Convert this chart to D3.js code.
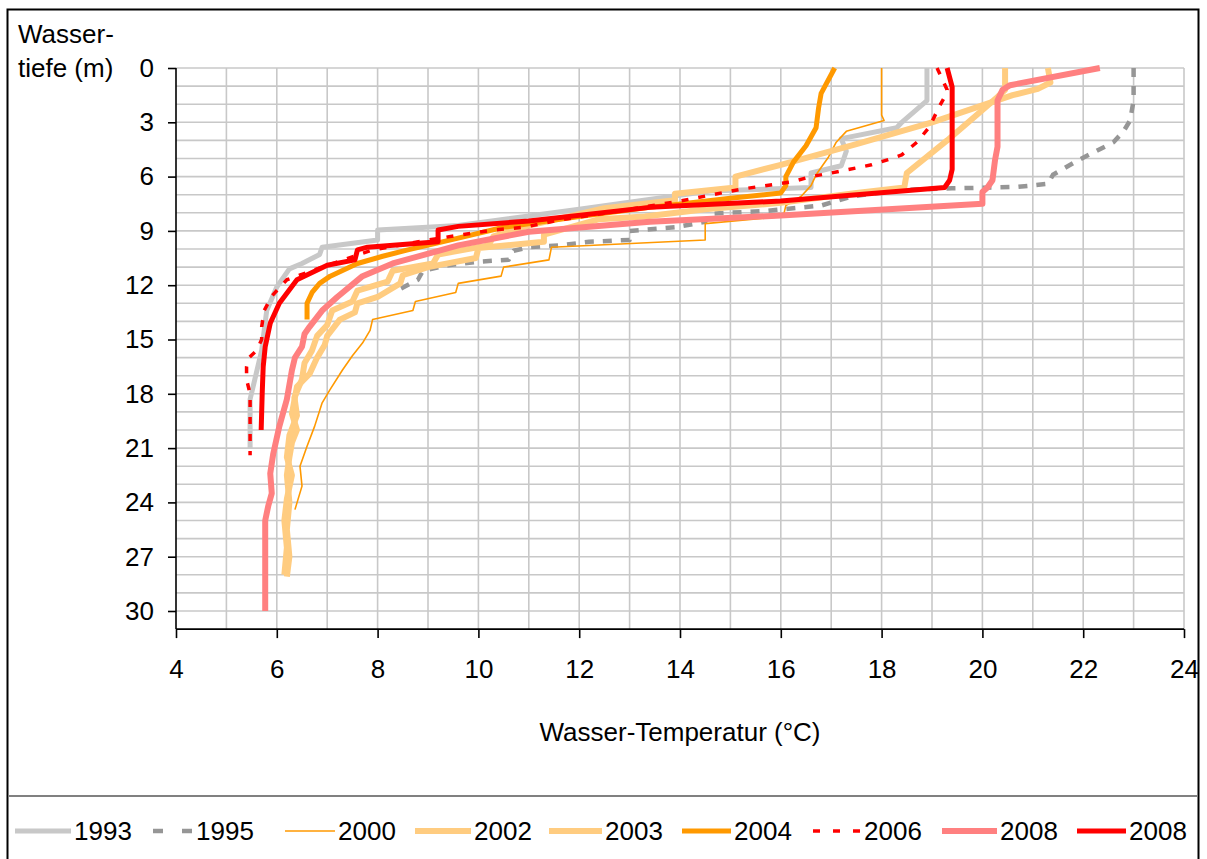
<!DOCTYPE html>
<html><head><meta charset="utf-8">
<script src="https://cdn.jsdelivr.net/npm/d3@7"></script>
<style>
html,body{margin:0;padding:0;background:#fff;}
svg text{font-family:"Liberation Sans",Arial,sans-serif;fill:#000;}
</style></head>
<body>
<svg id="chart" width="1207" height="859"></svg>
<script>
// ---- data: [temperature °C, depth m] ----
const s1993 = [[18.9,0],[18.9,1.8],[18.4,3.0],[18.3,3.3],[17.2,3.9],[17.3,4.6],[17.2,5.4],[16.6,5.8],[16.6,6.6],[14.6,6.8],[12.0,7.8],[9.6,8.7],[8.0,8.95],[8.0,9.5],[6.9,9.9],[6.85,10.3],[6.5,10.8],[6.25,11.1],[6.0,12.1],[5.8,13.4],[5.7,15.6],[5.53,17.6],[5.47,18.3],[5.47,21.0]];
const s1995 = [[23.0,0],[23.0,1.8],[22.93,2.9],[22.8,3.5],[22.6,4.1],[21.9,5.1],[21.4,5.9],[21.3,6.4],[20.7,6.57],[19.4,6.65],[18.7,6.7],[18.2,6.8],[17.4,7.1],[16.8,7.6],[15.7,7.9],[14.6,8.05],[14.5,8.5],[13.9,8.8],[13.0,9.0],[13.0,9.5],[12.2,9.6],[11.6,9.8],[11.0,9.9],[10.7,10.1],[10.6,10.6],[10.0,10.7],[9.4,10.9],[8.9,11.2],[8.8,11.7],[8.45,12.2],[8.45,12.4]];
const s2000 = [[18.0,0],[18.0,2.6],[18.05,2.9],[17.3,3.5],[17.1,4.1],[16.95,4.9],[16.7,5.9],[16.6,6.5],[16.4,7.1],[16.1,7.6],[16.05,8.2],[14.5,8.6],[14.5,9.5],[11.45,9.9],[11.4,10.6],[10.5,11.0],[10.45,11.5],[9.6,11.9],[9.55,12.4],[8.75,12.9],[8.7,13.4],[7.9,13.9],[7.85,14.5],[7.7,15.2],[7.5,15.9],[7.3,16.7],[7.05,17.8],[6.9,18.5],[6.75,19.8],[6.6,20.9],[6.46,22.0],[6.5,23.1],[6.36,24.4]];
const s2002 = [[20.45,0],[20.45,1.2],[20.3,1.6],[19.3,4.0],[18.5,5.8],[18.45,6.6],[17.5,6.9],[16.0,7.45],[14.5,7.8],[13.3,8.2],[12.4,8.35],[11.3,9.2],[11.3,9.6],[10.0,9.95],[9.95,10.5],[9.0,11.0],[8.5,11.45],[8.45,11.9],[8.0,12.65],[7.6,13.0],[7.55,13.5],[7.25,13.9],[7.0,14.8],[6.95,15.3],[6.8,16.0],[6.65,16.9],[6.4,17.6],[6.3,19.1],[6.4,20.0],[6.3,20.7],[6.25,21.5],[6.2,22.5],[6.25,24.0],[6.2,25.5],[6.25,27.0],[6.2,28.1]];
const s2003 = [[21.3,0],[21.35,0.8],[21.1,1.15],[20.6,1.5],[19.0,3.0],[17.5,4.2],[16.0,5.35],[15.1,6.0],[15.1,6.6],[13.9,6.95],[13.9,7.3],[12.5,7.75],[11.8,8.2],[11.0,8.7],[10.3,9.3],[10.2,9.8],[9.2,10.3],[9.1,10.8],[8.3,11.2],[8.2,11.8],[7.6,12.3],[7.5,12.9],[7.1,13.4],[7.0,14.2],[6.8,14.8],[6.7,15.6],[6.55,16.3],[6.5,17.2],[6.35,18.2],[6.4,19.2],[6.25,20.3],[6.2,21.5],[6.3,22.5],[6.2,23.8],[6.15,25.0],[6.2,26.5],[6.15,28.0]];
const s2004 = [[17.07,0],[16.8,1.4],[16.75,2.2],[16.7,3.3],[16.5,4.3],[16.25,5.2],[16.1,6.0],[16.1,6.5],[16.0,6.9],[15.0,7.2],[13.4,7.7],[12.0,8.2],[10.5,8.8],[9.6,9.4],[8.6,10.05],[8.1,10.4],[7.6,10.8],[7.06,11.5],[6.85,11.9],[6.7,12.4],[6.6,13.0],[6.6,13.9]];
const s2006 = [[19.1,0],[19.3,1.2],[19.25,1.6],[19.15,2.1],[18.95,3.25],[18.7,4.1],[18.4,4.8],[18.2,5.0],[17.8,5.35],[17.0,5.8],[16.6,6.0],[16.2,6.3],[15.2,6.7],[14.0,7.35],[12.8,7.9],[11.6,8.4],[10.9,8.8],[10.3,8.95],[9.0,9.5],[7.9,10.05],[6.9,11.0],[6.2,11.7],[5.9,12.6],[5.75,13.4],[5.7,14.3],[5.7,15.0],[5.6,15.6],[5.45,16.0],[5.4,16.5],[5.4,17.2],[5.47,18.0],[5.47,21.4]];
const s2008a = [[22.33,0],[20.55,0.95],[20.4,1.2],[20.3,1.8],[20.3,2.9],[20.3,4.35],[20.25,5.1],[20.2,6.2],[20.1,6.6],[20.0,6.85],[20.0,7.5],[16.0,8.15],[13.4,8.5],[11.0,9.05],[9.6,9.8],[8.3,10.8],[7.7,11.5],[7.2,12.65],[6.9,13.4],[6.65,14.3],[6.55,14.7],[6.5,15.4],[6.36,16.0],[6.3,16.7],[6.2,18.3],[6.05,19.8],[5.93,21.3],[5.87,22.4],[5.9,23.5],[5.83,24.2],[5.77,25.0],[5.77,30.0]];
const s2008b = [[19.3,0],[19.4,1.05],[19.4,5.6],[19.35,6.2],[19.25,6.6],[16.0,7.35],[13.4,7.7],[11.0,8.45],[9.6,8.75],[9.2,8.95],[9.2,9.6],[7.8,9.9],[7.6,10.05],[7.55,10.6],[7.0,10.9],[6.4,11.7],[6.05,13.0],[5.87,14.1],[5.77,15.4],[5.73,16.5],[5.71,18.0],[5.69,20.0]];

const seriesNames = ["1993","1995","2000","2002","2003","2004","2006","2008","2008"];
const seriesData = [s1993,s1995,s2000,s2002,s2003,s2004,s2006,s2008a,s2008b];
const xTicks = [4,6,8,10,12,14,16,18,20,22,24];
const yTicks = [0,3,6,9,12,15,18,21,24,27,30];

// ---- styles ----
const styles = [
  {color:"#C8C8C8", width:5,   dash:null},
  {color:"#969696", width:4.5, dash:"9,9"},
  {color:"#FF9900", width:1.6, dash:null},
  {color:"#FFCC80", width:6,   dash:null},
  {color:"#FFCC80", width:6,   dash:null},
  {color:"#FF9900", width:5,   dash:null},
  {color:"#FF0000", width:3.5, dash:"7,10"},
  {color:"#FF8080", width:6,   dash:null},
  {color:"#FF0000", width:5,   dash:null}
];

const svg = d3.select("#chart");
const FS = 26;

// outer frame
svg.append("rect").attr("x",7.5).attr("y",9.5).attr("width",1191).attr("height",870)
  .attr("fill","none").attr("stroke","#000").attr("stroke-width",2);
// legend separator
svg.append("line").attr("x1",8).attr("x2",1198).attr("y1",796).attr("y2",796)
  .attr("stroke","#808080").attr("stroke-width",2);

const x = d3.scaleLinear().domain([4,24]).range([176,1184]);
const y = d3.scaleLinear().domain([0,31]).range([68,629.1]);

// gridlines
const g = svg.append("g");
g.selectAll(".vg").data(d3.range(5,25,1)).join("line")
  .attr("x1",d=>x(d)).attr("x2",d=>x(d)).attr("y1",y(0)).attr("y2",y(31))
  .attr("stroke","#C8C8C8").attr("stroke-width",1.6);
g.selectAll(".hg").data(d3.range(0,31,1)).join("line")
  .attr("x1",x(4)).attr("x2",x(24)).attr("y1",d=>y(d)).attr("y2",d=>y(d))
  .attr("stroke","#C8C8C8").attr("stroke-width",1.6);

// axes
const xAxis = d3.axisBottom(x).tickValues(xTicks).tickSize(9).tickPadding(21).tickFormat(d3.format("d"));
const yAxis = d3.axisLeft(y).tickValues(yTicks).tickSize(8).tickPadding(14).tickFormat(d3.format("d"));
const gx = svg.append("g").attr("transform",`translate(0,${y(31)})`).call(xAxis);
const gy = svg.append("g").attr("transform",`translate(${x(4)},0)`).call(yAxis);
[gx,gy].forEach(a=>{
  a.select(".domain").attr("stroke","#000").attr("stroke-width",1.6);
  a.selectAll(".tick line").attr("stroke","#000").attr("stroke-width",1.6);
  a.selectAll("text").attr("font-size",FS).attr("font-family","Liberation Sans, Arial, sans-serif").attr("fill","#000");
});
gy.select(".domain").attr("d",`M-0,${y(0)}V${y(31)}`);
gx.select(".domain").attr("d",`M${x(4)},0H${x(24)}`);
gx.selectAll("text").attr("dy","0.71em");

// series
const line = d3.line().x(d=>x(d[0])).y(d=>y(d[1]));
const pg = svg.append("g");
seriesData.forEach((s,i)=>{
  const st = styles[i];
  pg.append("path").attr("d",line(s)).attr("fill","none")
    .attr("stroke",st.color).attr("stroke-width",st.width)
    .attr("stroke-linejoin","round").attr("stroke-linecap","butt")
    .attr("stroke-dasharray",st.dash);
});

// axis titles
svg.append("text").attr("x",18).attr("y",43).attr("font-size",FS).text("Wasser-");
svg.append("text").attr("x",18).attr("y",77).attr("font-size",FS).text("tiefe (m)");
svg.append("text").attr("x",680).attr("y",741).attr("font-size",FS).attr("text-anchor","middle").text("Wasser-Temperatur (°C)");

// legend
const legX = [15,153,285,415,549,682,813,942,1077];
const legLineW = [56,40,50,56,53,49,48,55,49];
const lg = svg.append("g");
seriesNames.forEach((n,i)=>{
  const st = styles[i];
  lg.append("line").attr("x1",legX[i]).attr("x2",legX[i]+legLineW[i]).attr("y1",831).attr("y2",831)
    .attr("stroke",st.color).attr("stroke-width",st.width)
    .attr("stroke-dasharray", i===1 ? "10,19" : (i===6 ? "7,13" : null));
  lg.append("text").attr("x",legX[i]+legLineW[i]+3).attr("y",840).attr("font-size",FS).text(n);
});
</script>
</body></html>
